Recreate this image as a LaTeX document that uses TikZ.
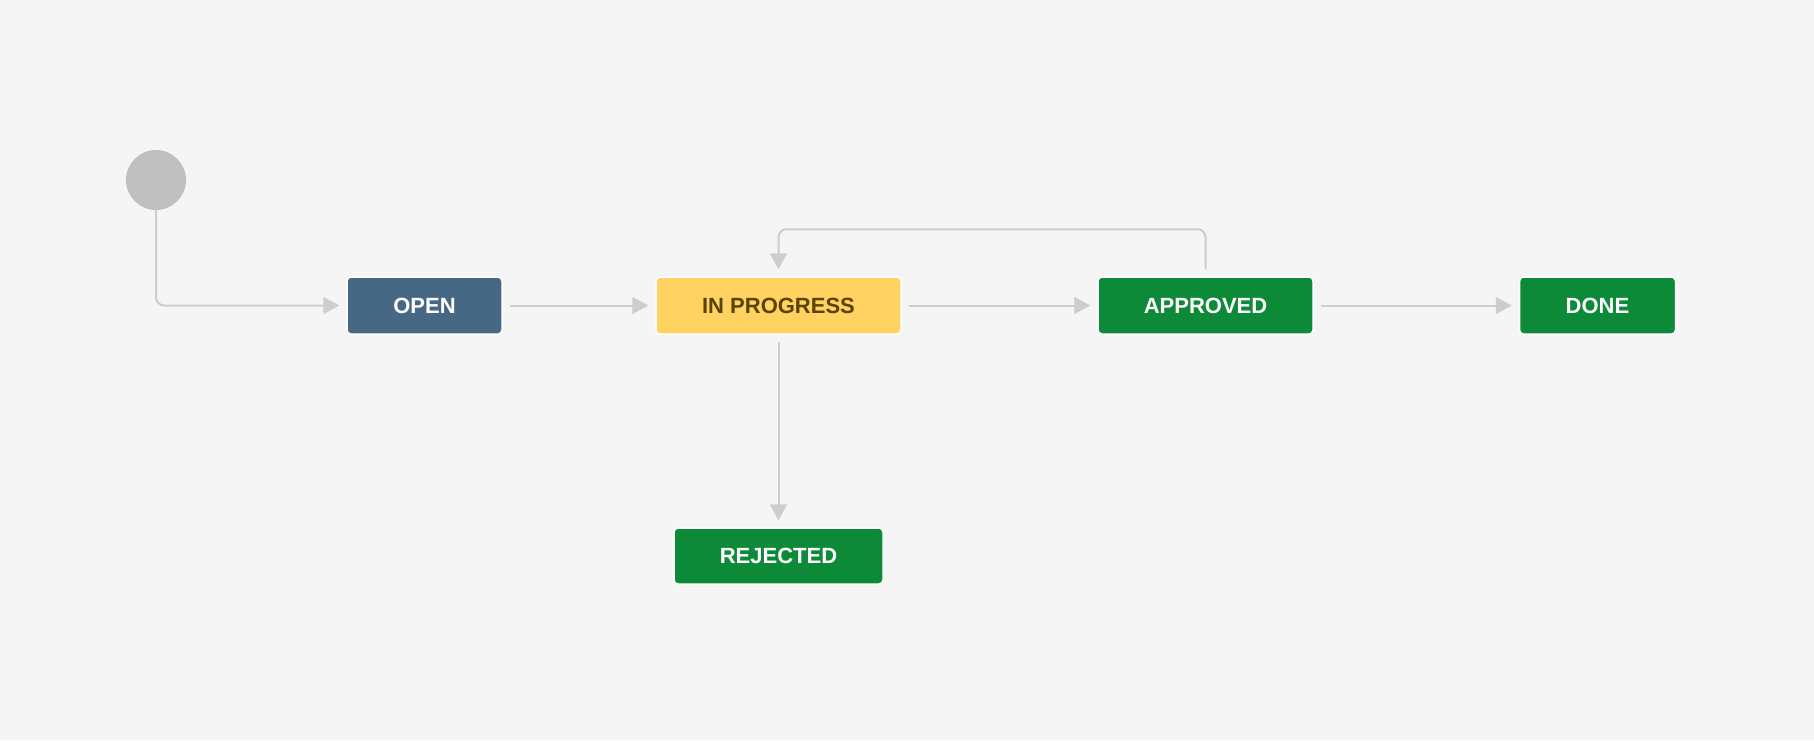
\documentclass[tikz,border=0pt]{standalone}
\usepackage{fontspec}
\setmainfont{Liberation Sans}
\usetikzlibrary{arrows.meta}
\definecolor{bgc}{HTML}{F5F5F5}
\definecolor{openc}{HTML}{466885}
\definecolor{progc}{HTML}{FFD261}
\definecolor{progtxt}{HTML}{594300}
\definecolor{donec}{HTML}{0C8A38}
\definecolor{startc}{HTML}{BFBFBF}
\definecolor{linec}{HTML}{CDCDCD}
\tikzset{
  status/.style={draw=white, line width=1.5pt, rounded corners=4pt, minimum height=57pt,
    inner sep=0pt, font=\fontsize{22}{26}\selectfont\bfseries, text=white},
  conn/.style={draw=linec, line width=2pt, rounded corners=8pt,
    -{Triangle[length=16pt,width=17pt]}, shorten >=7pt},
  connb/.style={conn, shorten <=7pt}
}
\begin{document}
\begin{tikzpicture}[x=1pt,y=-1pt]
\fill[bgc] (0,0) rectangle (1814,740);
\useasboundingbox (0,0) rectangle (1814,740);
\node[circle, fill=startc, minimum size=60pt, inner sep=0pt] (start) at (156,180) {};
\node[status, fill=openc, minimum width=155pt] (open) at (424.5,305.5) {OPEN};
\node[status, fill=progc, text=progtxt, minimum width=245pt] (prog) at (778.5,305.5) {IN PROGRESS};
\node[status, fill=donec, minimum width=215pt] (appr) at (1205.5,305.5) {APPROVED};
\node[status, fill=donec, minimum width=156pt] (done) at (1597.5,305.5) {DONE};
\node[status, fill=donec, minimum width=209pt, minimum height=56pt] (rej) at (778.5,556) {REJECTED};
\draw[conn] (start.south) |- (open.west);
\draw[connb] (open) -- (prog);
\draw[connb] (prog) -- (appr);
\draw[connb] (appr) -- (done);
\draw[connb] (prog) -- (rej);
\draw[connb] (appr.north) -- ++(0,-47) -| (prog.north);
\end{tikzpicture}
\end{document}
